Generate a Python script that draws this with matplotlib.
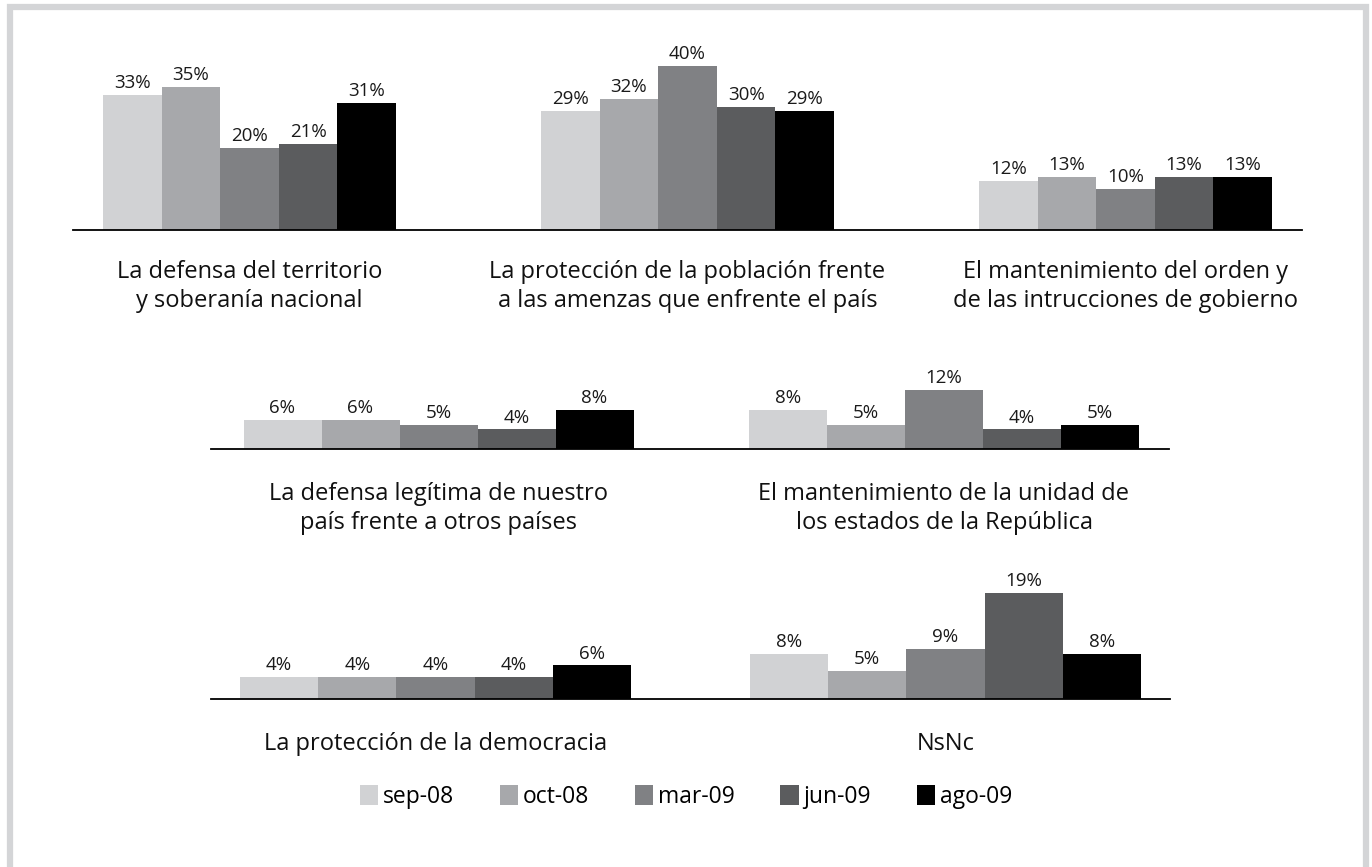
import numpy as np
import matplotlib.pyplot as plt
from matplotlib.patches import Patch, Rectangle

plt.rcParams['font.family'] = ['Open Sans', 'DejaVu Sans']

series = ['sep-08', 'oct-08', 'mar-09', 'jun-09', 'ago-09']
colors = ['#d1d2d4', '#a7a8ab', '#808184', '#5b5c5e', '#000000']

# row 1
cats_top = ['La defensa del territorio\ny soberanía nacional',
            'La protección de la población frente\na las amenzas que enfrente el país',
            'El mantenimiento del orden y\nde las intrucciones de gobierno']
vals_top = [[33, 35, 20, 21, 31],
            [29, 32, 40, 30, 29],
            [12, 13, 10, 13, 13]]
# row 2
cats_mid = ['La defensa legítima de nuestro\npaís frente a otros países',
            'El mantenimiento de la unidad de\nlos estados de la República']
vals_mid = [[6, 6, 5, 4, 8],
            [8, 5, 12, 4, 5]]
# row 3
cats_bot = ['La protección de la democracia', 'NsNc']
vals_bot = [[4, 4, 4, 4, 6],
            [8, 5, 9, 19, 8]]

W, H = 1372, 867
fig = plt.figure(figsize=(W/100, H/100), dpi=100)

# light grey frame (bottom edge cut off in the original)
fig.patches.append(Rectangle((9.5/W, -0.05), (1365.5-9.5)/W, 1.05-6.5/H,
                             transform=fig.transFigure, fill=False,
                             edgecolor='#d4d5d7', lw=4.5))


def row(x0, x1, ybase, ytop, cats, vals, c0, spacing, barw, ymax, pad):
    ax = fig.add_axes([x0/W, (H-ybase)/H, (x1-x0)/W, (ybase-ytop)/H])
    n = len(cats)
    xs = np.arange(n)
    w = barw/spacing
    for j in range(5):
        v = [vals[i][j] for i in range(n)]
        bars = ax.bar(xs + (j-2)*w, v, width=w, color=colors[j], label=series[j])
        for b, val in zip(bars, v):
            ax.annotate(f'{val}%', (b.get_x()+b.get_width()/2, b.get_height()),
                        xytext=(0, 2), textcoords='offset points',
                        ha='center', va='bottom', fontsize=13.5, color='#1a1a1a')
    ax.set_xlim((x0-c0)/spacing, (x1-c0)/spacing)
    ax.set_ylim(0, ymax)
    ax.set_xticks(xs, cats, fontsize=17, linespacing=1.3, color='#111111')
    ax.tick_params(axis='x', length=0, pad=pad)
    ax.set_yticks([])
    for s in ['top', 'left', 'right']:
        ax.spines[s].set_visible(False)
    ax.spines['bottom'].set_linewidth(1.3)
    ax.patch.set_alpha(0)
    return ax


row(73, 1302, 230, 40, cats_top, vals_top, 249.5, 438, 58.6, 190/4.1, 21.5)
row(211, 1169, 449, 360, cats_mid, vals_mid, 438.5, 505.5, 78, 89/4.9, 23.5)
row(211, 1170, 699, 570, cats_bot, vals_bot, 435.5, 510, 78.2, 129/5.6, 24)

handles = [Patch(facecolor=c, edgecolor='none') for c in colors]
fig.legend(handles, series, loc='center', bbox_to_anchor=(0.5, (H-797)/H),
           ncol=5, frameon=False, fontsize=16.5, handlelength=0.8,
           handleheight=1.0, handletextpad=0.2, columnspacing=2.0)

fig.savefig('out.png', dpi=100)
